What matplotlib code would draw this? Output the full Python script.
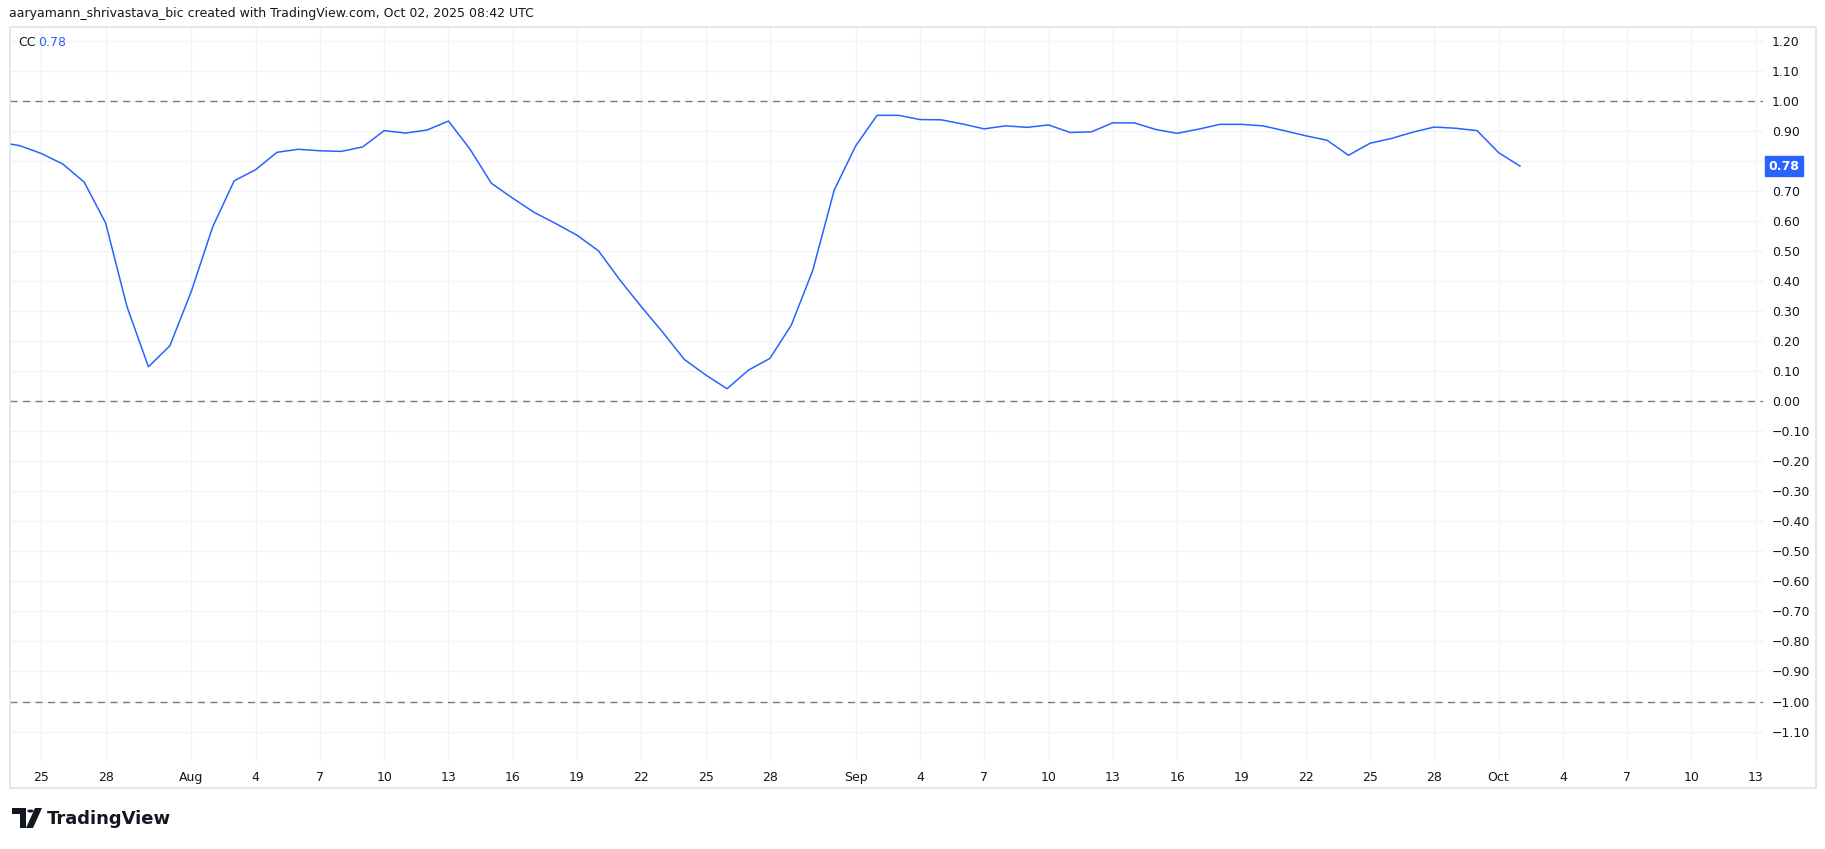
import numpy as np
import pandas as pd
import matplotlib
matplotlib.use("Agg")
import matplotlib.pyplot as plt
import matplotlib.dates as mdates
from matplotlib.patches import Rectangle, Polygon, Circle

# correlation coefficient, daily values
dates = pd.date_range("2025-07-23", "2025-10-02", freq="D")
cc = [0.862, 0.850, 0.824, 0.789, 0.729, 0.593, 0.314, 0.114, 0.184,
      0.365, 0.580, 0.733, 0.770, 0.828, 0.838, 0.833, 0.831, 0.846, 0.900,
      0.892, 0.902, 0.932, 0.839, 0.725, 0.675, 0.628, 0.591, 0.552, 0.500,
      0.403, 0.314, 0.229, 0.139, 0.087, 0.041, 0.103, 0.142, 0.253, 0.435,
      0.702,
      0.849, 0.951, 0.951, 0.937, 0.936, 0.922, 0.906, 0.916, 0.911, 0.919,
      0.894, 0.896, 0.926, 0.926, 0.904, 0.891, 0.905, 0.921, 0.921, 0.916,
      0.900, 0.883, 0.868, 0.818, 0.858, 0.874, 0.895, 0.912, 0.908, 0.900,
      0.827, 0.782]

tick_dates = pd.to_datetime([
    "2025-07-25", "2025-07-28", "2025-08-01", "2025-08-04", "2025-08-07",
    "2025-08-10", "2025-08-13", "2025-08-16", "2025-08-19", "2025-08-22",
    "2025-08-25", "2025-08-28", "2025-09-01", "2025-09-04", "2025-09-07",
    "2025-09-10", "2025-09-13", "2025-09-16", "2025-09-19", "2025-09-22",
    "2025-09-25", "2025-09-28", "2025-10-01", "2025-10-04", "2025-10-07",
    "2025-10-10", "2025-10-13"])
tick_labels = ["25", "28", "Aug", "4", "7", "10", "13", "16", "19", "22",
               "25", "28", "Sep", "4", "7", "10", "13", "16", "19", "22",
               "25", "28", "Oct", "4", "7", "10", "13"]
y_ticks = np.round(np.arange(-1.1, 1.21, 0.1), 2)
ref_levels = [1.0, 0.0, -1.0]

W, H = 1825, 849
LINE = "#2962ff"
TXT = "#131722"
GRID = "#f0f3fa"


def fx(px):
    return px / W


def fy(py):
    return 1 - py / H


fig = plt.figure(figsize=(W / 100, H / 100), dpi=100)
fig.patch.set_facecolor("white")

ax = fig.add_axes([fx(10), fy(761), fx(1763) - fx(10), fy(27) - fy(761)])
ax.set_facecolor("white")

ax.plot(dates, cc, color=LINE, lw=1.1, zorder=4)
for lv in ref_levels:
    ax.axhline(lv, color="#787b86", lw=1, dashes=(5, 4), zorder=3)

sep1 = mdates.date2num(pd.Timestamp("2025-09-01"))
ax.set_xlim(sep1 - 39.46, sep1 + 42.34)
ax.set_ylim(-1.198, 1.245)

ax.set_yticks(y_ticks)
ax.set_yticklabels([f"{v:.2f}".replace("-", "\u2212") for v in y_ticks])
ax.yaxis.tick_right()
ax.set_xticks(mdates.date2num(tick_dates))
ax.set_xticklabels(tick_labels)
ax.tick_params(axis="y", length=0, pad=6.5, labelsize=9, labelcolor=TXT)
ax.tick_params(axis="x", length=0, pad=7, labelsize=9, labelcolor=TXT)
ax.grid(True, color=GRID, lw=1, zorder=0)
ax.set_axisbelow(True)
for s in ax.spines.values():
    s.set_visible(False)

# last value label on the price scale
ax.annotate(f"{cc[-1]:.2f}", xy=(1, cc[-1]), xycoords=("axes fraction", "data"),
            xytext=(4, 0), textcoords="offset points", va="center", ha="left",
            fontsize=9, color="white", fontweight="bold", zorder=10,
            bbox=dict(boxstyle="square,pad=0.25", fc=LINE, ec=LINE),
            annotation_clip=False)

# outer frame
fig.patches.append(Rectangle((fx(9.5), fy(788)), fx(1816) - fx(9.5), fy(27) - fy(788),
                             transform=fig.transFigure, fill=False, ec="#e0e3eb", lw=1.2))

fig.text(fx(9), fy(14), "aaryamann_shrivastava_bic created with TradingView.com, Oct 02, 2025 08:42 UTC",
         fontsize=9, color=TXT, va="center", ha="left")
fig.text(fx(18), fy(42), "CC", fontsize=9, color=TXT, va="center", ha="left")
fig.text(fx(38), fy(42), f"{cc[-1]:.2f}", fontsize=9, color=LINE, va="center", ha="left")

# TradingView logo
logo = "#131722"
fig.patches.append(Polygon([(fx(12), fy(808)), (fx(26), fy(808)), (fx(26), fy(828)),
                            (fx(20), fy(828)), (fx(20), fy(814)), (fx(12), fy(814))],
                           closed=True, transform=fig.transFigure, fc=logo, ec="none"))
fig.patches.append(Circle((fx(30.5), fy(811)), 3.2 / W, transform=fig.transFigure,
                          fc=logo, ec="none"))
fig.patches.append(Polygon([(fx(35), fy(808)), (fx(42), fy(808)), (fx(33), fy(828)),
                            (fx(26), fy(828))],
                           closed=True, transform=fig.transFigure, fc=logo, ec="none"))
fig.text(fx(47), fy(819), "TradingView", fontsize=13, fontweight="bold", color=logo,
         va="center", ha="left")

fig.savefig("out.png", dpi=100, facecolor="white")
